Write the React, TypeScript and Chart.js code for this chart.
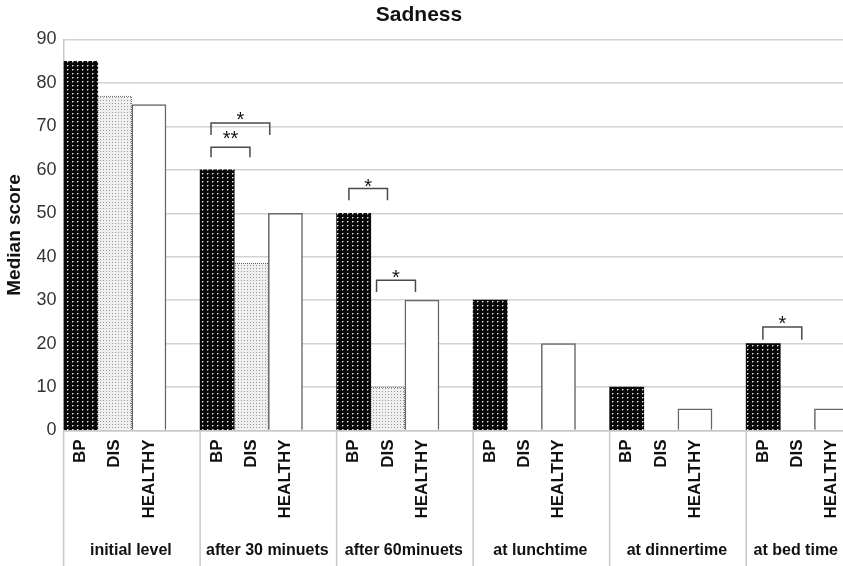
import React, { useEffect, useRef } from 'react';
import { Chart, registerables } from 'chart.js';

Chart.register(...registerables);

const groups = ['initial level', 'after 30 minuets', 'after 60minuets', 'at lunchtime', 'at dinnertime', 'at bed time'];
const seriesNames = ['BP', 'DIS', 'HEALTHY'];
const bpValues = [85, 60, 50, 30, 10, 20];
const disValues = [77, 38.5, 10, 0, 0, 0];
const healthyValues = [75, 50, 30, 20, 5, 5];

// significance brackets (x in category-index units, y in score units)
const bracketFrom = [3.82, 3.82, 7.86, 8.67, 19.99];
const bracketTo = [4.96, 5.54, 8.99, 9.81, 21.13];
const bracketTop = [65.2, 70.8, 55.7, 34.6, 23.8];
const bracketLeg = [62.9, 68.0, 53.0, 31.9, 20.9];
const bracketMark = ['**', '*', '*', '*', '*'];
const markValue = [68.4, 72.8, 57.4, 36.4, 25.8];

const FONT = '"Liberation Sans", Arial, Helvetica, sans-serif';
const VIEW_W = 843;

function makePattern(w: number, h: number, draw: (ctx: CanvasRenderingContext2D) => void) {
  const c = document.createElement('canvas');
  c.width = w;
  c.height = h;
  const ctx = c.getContext('2d')!;
  draw(ctx);
  return ctx.createPattern(c, 'repeat')!;
}

export default function App() {
  const ref = useRef<HTMLCanvasElement>(null);

  useEffect(() => {
    const bpPattern = makePattern(5, 4, (ctx) => {
      ctx.fillStyle = '#080808';
      ctx.fillRect(0, 0, 5, 4);
      ctx.fillStyle = '#e6e6e6';
      ctx.fillRect(2, 1, 1, 1);
      ctx.fillStyle = '#777';
      ctx.fillRect(3, 1, 1, 1);
      ctx.fillRect(2, 2, 1, 1);
    });
    const disPattern = makePattern(3, 3, (ctx) => {
      ctx.fillStyle = '#efefef';
      ctx.fillRect(0, 0, 3, 3);
      ctx.fillStyle = '#9a9a9a';
      ctx.fillRect(1, 1, 1, 1);
    });
    const disBorder = makePattern(2, 2, (ctx) => {
      ctx.fillStyle = '#555';
      ctx.fillRect(0, 0, 1, 1);
      ctx.fillRect(1, 1, 1, 1);
    });

    const labels: string[] = [];
    const values: (number | null)[] = [];
    const bg: any[] = [];
    const border: any[] = [];
    const bw: number[] = [];
    groups.forEach((_, g) => {
      const vals = [bpValues[g], disValues[g], healthyValues[g]];
      seriesNames.forEach((s, i) => {
        labels.push(s);
        values.push(vals[i]);
        bg.push(i === 0 ? bpPattern : i === 1 ? disPattern : '#ffffff');
        border.push(i === 0 ? '#080808' : i === 1 ? disBorder : '#666666');
        bw.push(i === 0 ? 0 : i === 1 ? 1 : 1.5);
      });
      labels.push('');
      values.push(null);
      bg.push('#ffffff');
      border.push('#ffffff');
      bw.push(0);
    });

    const overlay = {
      id: 'overlay',
      afterDraw(chart: any) {
        const { ctx, chartArea, scales } = chart;
        const xs = scales.x;
        const ys = scales.y;
        const catW = (chartArea.right - chartArea.left) / labels.length;
        ctx.save();
        // title
        ctx.fillStyle = '#111';
        ctx.font = `bold 21px ${FONT}`;
        ctx.textAlign = 'center';
        ctx.textBaseline = 'middle';
        ctx.fillText('Sadness', 419, 15);
        // group separators below axis
        ctx.strokeStyle = '#c8c8c8';
        ctx.lineWidth = 1.5;
        for (let k = 0; k <= groups.length; k++) {
          const x = chartArea.left + k * 4 * catW;
          ctx.beginPath();
          ctx.moveTo(x, chartArea.bottom);
          ctx.lineTo(x, chart.height);
          ctx.stroke();
        }
        // group labels (kept inside the visible area)
        ctx.fillStyle = '#111';
        ctx.font = `bold 16px ${FONT}`;
        groups.forEach((g, k) => {
          const w = ctx.measureText(g).width;
          let cx = chartArea.left + (k * 4 + 2) * catW - 1;
          cx = Math.min(cx, VIEW_W - 5 - w / 2);
          ctx.fillText(g, cx, 551);
        });
        // brackets
        ctx.strokeStyle = '#4a4a4a';
        ctx.lineWidth = 1.5;
        ctx.font = `20px ${FONT}`;
        ctx.textBaseline = 'alphabetic';
        bracketFrom.forEach((f, i) => {
          const x1 = xs.getPixelForValue(f);
          const x2 = xs.getPixelForValue(bracketTo[i]);
          const yt = ys.getPixelForValue(bracketTop[i]);
          const yl = ys.getPixelForValue(bracketLeg[i]);
          ctx.beginPath();
          ctx.moveTo(x1, yl);
          ctx.lineTo(x1, yt);
          ctx.lineTo(x2, yt);
          ctx.lineTo(x2, yl);
          ctx.stroke();
          ctx.fillStyle = '#111';
          ctx.fillText(bracketMark[i], (x1 + x2) / 2, ys.getPixelForValue(markValue[i]) + 11.5);
        });
        ctx.restore();
      },
    };

    const chart = new Chart(ref.current!, {
      type: 'bar',
      data: {
        labels,
        datasets: [
          {
            data: values,
            backgroundColor: bg,
            borderColor: border,
            borderWidth: bw,
            barPercentage: 1,
            categoryPercentage: 1,
          },
        ],
      },
      options: {
        responsive: false,
        animation: false,
        layout: { padding: { top: 39.5, left: 0, right: 0, bottom: 0 } },
        plugins: { legend: { display: false }, tooltip: { enabled: false }, title: { display: false } },
        scales: {
          x: {
            type: 'category',
            offset: true,
            grid: { display: false, drawTicks: false },
            border: { display: true, color: '#c8c8c8', width: 1.5 },
            ticks: {
              autoSkip: false,
              maxRotation: 90,
              minRotation: 90,
              padding: 9,
              color: '#111',
              font: { family: FONT, size: 17, weight: 'bold' },
            },
            afterFit: (s: any) => {
              s.height = 135.5;
            },
          },
          y: {
            min: 0,
            max: 90,
            ticks: { stepSize: 10, padding: 7, color: '#333', font: { family: FONT, size: 18 } },
            grid: { color: '#d2d2d2', lineWidth: 1.5, drawTicks: false },
            border: { color: '#c8c8c8', width: 1.5 },
            title: {
              display: true,
              text: 'Median score',
              color: '#111',
              font: { family: FONT, size: 19, weight: 'bold' },
              padding: { top: 3, bottom: 0 },
            },
            afterFit: (s: any) => {
              s.width = 63.6;
            },
          },
        },
      },
      plugins: [overlay],
    });
    return () => chart.destroy();
  }, []);

  return (
    <div style={{ position: 'fixed', left: 0, top: 0, width: VIEW_W, height: 566, overflow: 'hidden', background: '#fff' }}>
      <canvas ref={ref} width={895} height={566} style={{ width: 895, height: 566, display: 'block' }} />
    </div>
  );
}
